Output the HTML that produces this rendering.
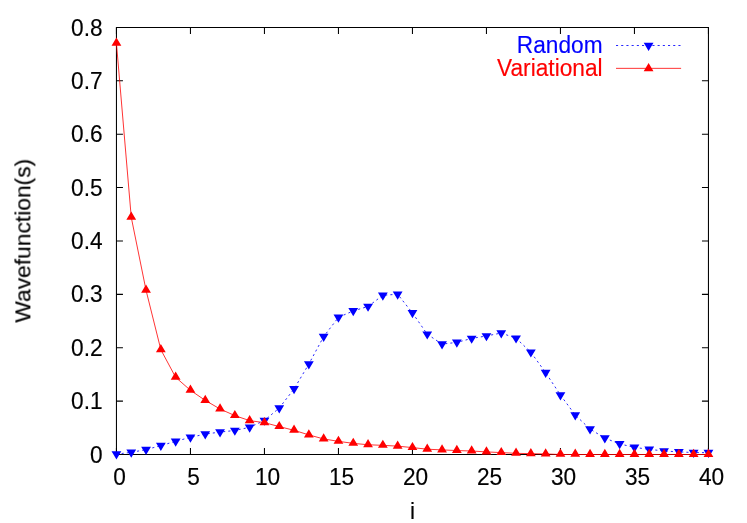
<!DOCTYPE html>
<html><head><meta charset="utf-8"><title>plot</title>
<style>
html,body{margin:0;padding:0;background:#fff;}
body{width:747px;height:523px;position:relative;overflow:hidden;font-family:"Liberation Sans",sans-serif;}
svg text{font-family:"Liberation Sans",sans-serif;}
</style></head><body>
<svg width="747" height="523" viewBox="0 0 747 523" style="position:absolute;left:0;top:0">
<g stroke="#000" stroke-width="1.05" fill="none">
<path d="M116.45 27.45L116.45 454.5L708.45 454.5L708.45 27.45Z"/>
<path d="M116.45 454.50h6.5M708.45 454.50h-6.5M116.45 401.12h6.5M708.45 401.12h-6.5M116.45 347.74h6.5M708.45 347.74h-6.5M116.45 294.36h6.5M708.45 294.36h-6.5M116.45 240.97h6.5M708.45 240.97h-6.5M116.45 187.59h6.5M708.45 187.59h-6.5M116.45 134.21h6.5M708.45 134.21h-6.5M116.45 80.83h6.5M708.45 80.83h-6.5M116.45 27.45h6.5M708.45 27.45h-6.5M116.45 454.5v-6.5M116.45 27.45v6.5M190.45 454.5v-6.5M190.45 27.45v6.5M264.45 454.5v-6.5M264.45 27.45v6.5M338.45 454.5v-6.5M338.45 27.45v6.5M412.45 454.5v-6.5M412.45 27.45v6.5M486.45 454.5v-6.5M486.45 27.45v6.5M560.45 454.5v-6.5M560.45 27.45v6.5M634.45 454.5v-6.5M634.45 27.45v6.5M708.45 454.5v-6.5M708.45 27.45v6.5"/>
</g>
<path d="M116.45 454.12L131.25 452.37L146.05 449.57L160.85 445.67L175.65 441.27L190.45 437.37L205.25 434.07L220.05 432.07L234.85 430.47L249.65 427.30L264.45 420.47L279.25 408.02L294.05 388.92L308.85 364.02L323.65 336.62L338.45 317.37L353.25 310.92L368.05 306.47L382.85 295.27L397.65 294.27L412.45 312.92L427.25 334.22L442.05 344.10L456.85 342.40L471.65 338.45L486.45 335.95L501.25 333.02L516.05 338.22L530.85 352.20L545.65 372.65L560.45 395.05L575.25 415.02L590.05 429.07L604.85 438.07L619.65 443.92L634.45 447.37L649.25 449.37L664.05 450.97L678.85 451.87L693.65 452.57L708.45 452.67" stroke="#0000ff" stroke-width="0.85" fill="none" stroke-dasharray="2.1 3.1"/>
<path d="M616.0 45.5H681.1" stroke="#0000ff" stroke-width="0.85" fill="none" stroke-dasharray="2.1 3.1"/>
<path fill="#0000ff" d="M111.55 451.32L121.35 451.32L116.45 459.52ZM126.35 449.57L136.15 449.57L131.25 457.77ZM141.15 446.77L150.95 446.77L146.05 454.97ZM155.95 442.87L165.75 442.87L160.85 451.07ZM170.75 438.47L180.55 438.47L175.65 446.67ZM185.55 434.57L195.35 434.57L190.45 442.77ZM200.35 431.27L210.15 431.27L205.25 439.47ZM215.15 429.27L224.95 429.27L220.05 437.47ZM229.95 427.67L239.75 427.67L234.85 435.87ZM244.75 424.50L254.55 424.50L249.65 432.70ZM259.55 417.67L269.35 417.67L264.45 425.87ZM274.35 405.22L284.15 405.22L279.25 413.42ZM289.15 386.12L298.95 386.12L294.05 394.32ZM303.95 361.22L313.75 361.22L308.85 369.42ZM318.75 333.82L328.55 333.82L323.65 342.02ZM333.55 314.57L343.35 314.57L338.45 322.77ZM348.35 308.12L358.15 308.12L353.25 316.32ZM363.15 303.67L372.95 303.67L368.05 311.87ZM377.95 292.47L387.75 292.47L382.85 300.67ZM392.75 291.47L402.55 291.47L397.65 299.67ZM407.55 310.12L417.35 310.12L412.45 318.32ZM422.35 331.42L432.15 331.42L427.25 339.62ZM437.15 341.30L446.95 341.30L442.05 349.50ZM451.95 339.60L461.75 339.60L456.85 347.80ZM466.75 335.65L476.55 335.65L471.65 343.85ZM481.55 333.15L491.35 333.15L486.45 341.35ZM496.35 330.22L506.15 330.22L501.25 338.42ZM511.15 335.42L520.95 335.42L516.05 343.62ZM525.95 349.40L535.75 349.40L530.85 357.60ZM540.75 369.85L550.55 369.85L545.65 378.05ZM555.55 392.25L565.35 392.25L560.45 400.45ZM570.35 412.22L580.15 412.22L575.25 420.42ZM585.15 426.27L594.95 426.27L590.05 434.47ZM599.95 435.27L609.75 435.27L604.85 443.47ZM614.75 441.12L624.55 441.12L619.65 449.32ZM629.55 444.57L639.35 444.57L634.45 452.77ZM644.35 446.57L654.15 446.57L649.25 454.77ZM659.15 448.17L668.95 448.17L664.05 456.37ZM673.95 449.07L683.75 449.07L678.85 457.27ZM688.75 449.77L698.55 449.77L693.65 457.97ZM703.55 449.87L713.35 449.87L708.45 458.07ZM643.70 42.70L653.50 42.70L648.60 50.90Z"/>
<path d="M116.45 43.30L131.25 217.30L146.05 290.30L160.85 349.70L175.65 377.30L190.45 390.30L205.25 400.40L220.05 409.00L234.85 415.60L249.65 420.65L264.45 422.65L279.25 426.60L294.05 430.30L308.85 434.90L323.65 438.95L338.45 441.35L353.25 443.35L368.05 444.75L382.85 445.35L397.65 446.15L412.45 447.60L427.25 449.20L442.05 449.90L456.85 450.55L471.65 451.00L486.45 451.90L501.25 452.60L516.05 453.30L530.85 453.70L545.65 453.95L560.45 454.50L575.25 454.50L590.05 454.50L604.85 454.50L619.65 454.50L634.45 454.50L649.25 454.50L664.05 454.50L678.85 454.50L693.65 454.50L708.45 454.50" stroke="#ff0000" stroke-width="0.8" fill="none"/>
<path d="M616.0 68.35H681.1" stroke="#ff0000" stroke-width="0.8" fill="none"/>
<path fill="#ff0000" d="M111.55 45.80L121.35 45.80L116.45 37.60ZM126.35 219.80L136.15 219.80L131.25 211.60ZM141.15 292.80L150.95 292.80L146.05 284.60ZM155.95 352.20L165.75 352.20L160.85 344.00ZM170.75 379.80L180.55 379.80L175.65 371.60ZM185.55 392.80L195.35 392.80L190.45 384.60ZM200.35 402.90L210.15 402.90L205.25 394.70ZM215.15 411.50L224.95 411.50L220.05 403.30ZM229.95 418.10L239.75 418.10L234.85 409.90ZM244.75 423.15L254.55 423.15L249.65 414.95ZM259.55 425.15L269.35 425.15L264.45 416.95ZM274.35 429.10L284.15 429.10L279.25 420.90ZM289.15 432.80L298.95 432.80L294.05 424.60ZM303.95 437.40L313.75 437.40L308.85 429.20ZM318.75 441.45L328.55 441.45L323.65 433.25ZM333.55 443.85L343.35 443.85L338.45 435.65ZM348.35 445.85L358.15 445.85L353.25 437.65ZM363.15 447.25L372.95 447.25L368.05 439.05ZM377.95 447.85L387.75 447.85L382.85 439.65ZM392.75 448.65L402.55 448.65L397.65 440.45ZM407.55 450.10L417.35 450.10L412.45 441.90ZM422.35 451.70L432.15 451.70L427.25 443.50ZM437.15 452.40L446.95 452.40L442.05 444.20ZM451.95 453.05L461.75 453.05L456.85 444.85ZM466.75 453.50L476.55 453.50L471.65 445.30ZM481.55 454.40L491.35 454.40L486.45 446.20ZM496.35 455.10L506.15 455.10L501.25 446.90ZM511.15 455.80L520.95 455.80L516.05 447.60ZM525.95 456.20L535.75 456.20L530.85 448.00ZM540.75 456.45L550.55 456.45L545.65 448.25ZM555.55 456.70L565.35 456.70L560.45 448.50ZM570.35 456.80L580.15 456.80L575.25 448.60ZM585.15 456.90L594.95 456.90L590.05 448.70ZM599.95 456.90L609.75 456.90L604.85 448.70ZM614.75 456.90L624.55 456.90L619.65 448.70ZM629.55 456.90L639.35 456.90L634.45 448.70ZM644.35 456.90L654.15 456.90L649.25 448.70ZM659.15 456.90L668.95 456.90L664.05 448.70ZM673.95 456.90L683.75 456.90L678.85 448.70ZM688.75 456.90L698.55 456.90L693.65 448.70ZM703.55 456.90L713.35 456.90L708.45 448.70ZM643.70 71.15L653.50 71.15L648.60 62.95Z"/>
<g style='font-family:"Liberation Sans",sans-serif' font-size="22.7" opacity="0.999" stroke-width="0.15"><text transform="translate(102.60,462.55) scale(1.0,1.075)" text-anchor="end" fill="#000" stroke="#000">0</text>
<text transform="translate(102.60,409.17) scale(1.0,1.075)" text-anchor="end" fill="#000" stroke="#000">0.1</text>
<text transform="translate(102.60,355.79) scale(1.0,1.075)" text-anchor="end" fill="#000" stroke="#000">0.2</text>
<text transform="translate(102.60,302.41) scale(1.0,1.075)" text-anchor="end" fill="#000" stroke="#000">0.3</text>
<text transform="translate(102.60,249.03) scale(1.0,1.075)" text-anchor="end" fill="#000" stroke="#000">0.4</text>
<text transform="translate(102.60,195.64) scale(1.0,1.075)" text-anchor="end" fill="#000" stroke="#000">0.5</text>
<text transform="translate(102.60,142.26) scale(1.0,1.075)" text-anchor="end" fill="#000" stroke="#000">0.6</text>
<text transform="translate(102.60,88.88) scale(1.0,1.075)" text-anchor="end" fill="#000" stroke="#000">0.7</text>
<text transform="translate(102.60,35.50) scale(1.0,1.075)" text-anchor="end" fill="#000" stroke="#000">0.8</text>
<text transform="translate(119.55,485.00) scale(1.0,1.075)" text-anchor="middle" fill="#000" stroke="#000">0</text>
<text transform="translate(193.55,485.00) scale(1.0,1.075)" text-anchor="middle" fill="#000" stroke="#000">5</text>
<text transform="translate(267.55,485.00) scale(1.0,1.075)" text-anchor="middle" fill="#000" stroke="#000">10</text>
<text transform="translate(341.55,485.00) scale(1.0,1.075)" text-anchor="middle" fill="#000" stroke="#000">15</text>
<text transform="translate(415.55,485.00) scale(1.0,1.075)" text-anchor="middle" fill="#000" stroke="#000">20</text>
<text transform="translate(489.55,485.00) scale(1.0,1.075)" text-anchor="middle" fill="#000" stroke="#000">25</text>
<text transform="translate(563.55,485.00) scale(1.0,1.075)" text-anchor="middle" fill="#000" stroke="#000">30</text>
<text transform="translate(637.55,485.00) scale(1.0,1.075)" text-anchor="middle" fill="#000" stroke="#000">35</text>
<text transform="translate(711.55,485.00) scale(1.0,1.075)" text-anchor="middle" fill="#000" stroke="#000">40</text>
<text transform="translate(412.50,519.20) scale(1.0,1.015)" text-anchor="middle" fill="#000" stroke="#000">i</text>
<text transform="translate(30.40,240.70) rotate(-90) scale(1.0,1.0)" text-anchor="middle" fill="#000" stroke="#000" font-size="22.8">Wavefunction(s)</text>
<text transform="translate(602.60,53.00) scale(1.0,1.055)" text-anchor="end" fill="#0000ff" stroke="#0000ff">Random</text>
<text transform="translate(602.60,75.80) scale(1.0,1.055)" text-anchor="end" fill="#ff0000" stroke="#ff0000">Variational</text></g>
</svg>

</body></html>
